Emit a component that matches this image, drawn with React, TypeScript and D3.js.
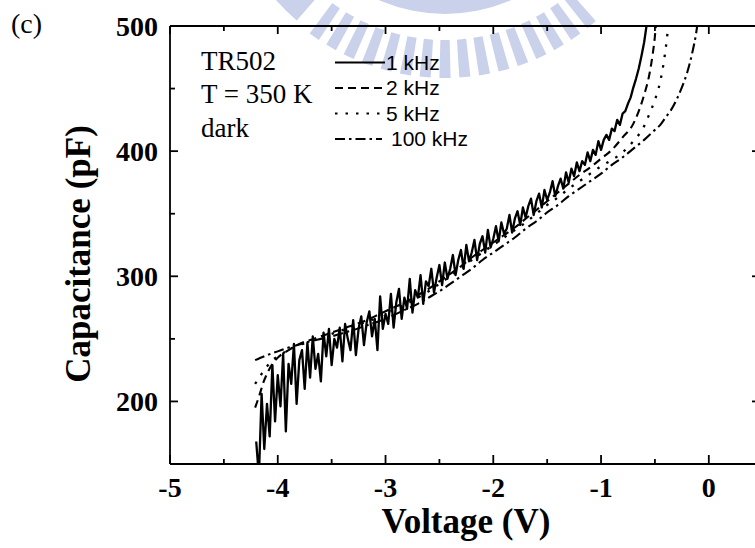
import React from 'react';
import * as d3 from 'd3';

// Axis ticks
const xTicks = [-5, -4, -3, -2, -1, 0];
const xMinorTicks = [-4.5, -3.5, -2.5, -1.5, -0.5];
const yTicks = [200, 300, 400, 500];
const yMinorTicks = [150, 250, 350, 450];

// 1 kHz: noisy sweep, uniform voltage step
const sweepStart = -4.2;
const sweepStep = 0.025;
const cap1kHz = [
  168, 140, 206, 162, 198, 172, 229, 184, 221, 196,
  238, 176, 230, 214, 246, 198, 233, 241, 210, 247,
  219, 252, 226, 238, 216, 255, 236, 258, 229, 250,
  243, 259, 232, 262, 250, 241, 265, 237, 258, 268,
  245, 263, 272, 252, 266, 241, 284, 258, 270, 262,
  286, 259, 279, 290, 266, 283, 274, 298, 271, 289,
  283, 301, 278, 296, 292, 306, 287, 299, 309, 293,
  311, 298, 306, 317, 301, 313, 321, 306, 325, 312,
  319, 329, 313, 326, 332, 319, 337, 323, 330, 340,
  328, 343, 334, 338, 349, 335, 346, 352, 341, 355,
  347, 356, 362, 349, 360, 366, 355, 369, 361, 367,
  376, 364, 372, 378, 370, 383, 375, 386, 380, 391,
  384, 392, 389, 399, 392, 401, 397, 408, 401, 409,
  413, 409, 418, 416, 425, 421, 430, 432, 438, 443,
  451, 458, 466, 476, 487, 502,
];

// 2 kHz
const v2kHz = [-4.21, -4.17, -4.13, -4.1, -4.05, -4.0, -3.9, -3.8, -3.7, -3.6, -3.5, -3.4, -3.3, -3.2, -3.1, -3.0,
  -2.9, -2.8, -2.7, -2.6, -2.5, -2.4, -2.3, -2.2, -2.1, -2.0, -1.9, -1.8, -1.7, -1.6, -1.5, -1.4, -1.3, -1.2, -1.1, -1.0,
  -0.9, -0.8, -0.7, -0.65, -0.6, -0.55, -0.52, -0.5, -0.49];
const cap2kHz = [195, 205, 216, 222, 230, 235, 241, 246, 249, 252, 255, 258, 261, 264, 268, 272,
  276, 280, 285, 290, 296, 302, 308, 315, 321, 327, 333, 339, 346, 353, 360, 367, 374, 381, 387, 394,
  401, 411, 422, 432, 445, 462, 478, 492, 502];

// 5 kHz
const v5kHz = [-4.21, -4.15, -4.1, -4.05, -4.0, -3.9, -3.8, -3.7, -3.6, -3.5, -3.4, -3.3, -3.2, -3.1, -3.0,
  -2.9, -2.8, -2.7, -2.6, -2.5, -2.4, -2.3, -2.2, -2.1, -2.0, -1.9, -1.8, -1.7, -1.6, -1.5, -1.4, -1.3, -1.2, -1.1, -1.0,
  -0.9, -0.8, -0.7, -0.6, -0.55, -0.5, -0.45, -0.42, -0.4, -0.38, -0.37];
const cap5kHz = [214, 222, 228, 233, 236, 241, 245, 248, 251, 254, 257, 260, 263, 266, 270,
  274, 278, 283, 288, 294, 300, 306, 313, 319, 325, 331, 337, 343, 350, 357, 363, 370, 376, 382, 388,
  393, 399, 408, 420, 430, 441, 456, 470, 482, 497, 505];

// 100 kHz
const v100kHz = [-4.21, -4.1, -4.0, -3.9, -3.8, -3.7, -3.6, -3.5, -3.4, -3.3, -3.2, -3.1, -3.0,
  -2.9, -2.8, -2.7, -2.6, -2.5, -2.4, -2.3, -2.2, -2.1, -2.0, -1.9, -1.8, -1.7, -1.6, -1.5, -1.4, -1.3, -1.2, -1.1, -1.0,
  -0.9, -0.8, -0.7, -0.6, -0.5, -0.45, -0.4, -0.35, -0.3, -0.25, -0.2, -0.15, -0.12, -0.1];
const cap100kHz = [233, 237, 240, 243, 245.5, 248, 250, 252, 254.5, 257, 260, 263, 266,
  270, 274, 278, 283, 288, 294, 300, 306, 313, 319, 325, 331, 338, 344, 351, 357, 364, 370, 376, 382,
  389, 395, 402, 409, 417, 421, 427, 433, 441, 451, 463, 480, 493, 505];

const legendLabels = ['1 kHz', '2 kHz', '5 kHz', '100 kHz'];
const infoLines = ['TR502', 'T = 350 K', 'dark'];

const SERIF = "'Liberation Serif', 'Times New Roman', Times, serif";
const SANS = "'Liberation Sans', Arial, Helvetica, sans-serif";

export default function App() {
  const W = 755, H = 548;
  const L = 170, R = 760, T = 26, B = 464;
  const x = d3.scaleLinear().domain([-5, 0.475]).range([L, R]);
  const y = d3.scaleLinear().domain([150, 500]).range([B, T]);

  const v1kHz = cap1kHz.map((_, i) => sweepStart + i * sweepStep);

  const styles = [
    { dash: undefined as string | undefined, curve: d3.curveLinear, width: 2.3 },
    { dash: '8,5', curve: d3.curveMonotoneX, width: 2.1 },
    { dash: '2.5,8', curve: d3.curveMonotoneX, width: 2.3 },
    { dash: '10,4,2.5,4', curve: d3.curveMonotoneX, width: 2.1 },
  ];
  const data: [number, number][][] = [
    v1kHz.map((v, i) => [v, cap1kHz[i]]),
    v2kHz.map((v, i) => [v, cap2kHz[i]]),
    v5kHz.map((v, i) => [v, cap5kHz[i]]),
    v100kHz.map((v, i) => [v, cap100kHz[i]]),
  ];
  const mkLine = (curve: any) =>
    d3.line<[number, number]>().x(d => x(d[0])).y(d => y(d[1])).curve(curve);

  // watermark (decorative, faint logo)
  const wmCx = 445, wmCy = -150;
  const deg = Math.PI / 180;
  const arc = d3.arc<any>();
  const barAngles = d3.range(50, 130, 5);

  const legendX0 = 335, legendX1 = 385;
  const legendY0 = 62.5, legendDY = 25.5;

  return (
    <svg width={W} height={H} style={{ position: 'absolute', left: 0, top: 0, background: '#fff' }}>
      <defs>
        <clipPath id="plotClip">
          <rect x={L} y={T} width={R - L} height={B - T} />
        </clipPath>
      </defs>
      <rect x={0} y={0} width={W} height={H} fill="#fff" />
      {/* watermark */}
      <g transform={`translate(${wmCx},${wmCy})`} fill="#cad1eb">
        {barAngles.map(a => (
          <path key={a} d={arc({ innerRadius: 190, outerRadius: 228, startAngle: (a + 90 - 1.4) * deg, endAngle: (a + 90 + 1.4) * deg }) || ''} />
        ))}
        <path d={arc({ innerRadius: 188, outerRadius: 226, startAngle: (131 + 90) * deg, endAngle: (150 + 90) * deg }) || ''} />
        <path d={arc({ innerRadius: 145, outerRadius: 164, startAngle: (45 + 90) * deg, endAngle: (135 + 90) * deg }) || ''} />
      </g>

      {/* series */}
      <g clipPath="url(#plotClip)" fill="none" stroke="#000" strokeLinejoin="round">
        {[3, 2, 1, 0].map(i => (
          <path key={i} d={mkLine(styles[i].curve)(data[i]) || ''} strokeWidth={styles[i].width}
            strokeDasharray={styles[i].dash} />
        ))}
      </g>

      {/* frame */}
      <g stroke="#000" strokeWidth={1.8} fill="none">
        <line x1={L} x2={R} y1={B} y2={B} />
        <line x1={L} x2={R} y1={T} y2={T} />
        <line x1={L} x2={L} y1={T} y2={B} />
        <line x1={R} x2={R} y1={T} y2={B} />
        {xTicks.map(t => (
          <g key={'xt' + t}>
            <line x1={x(t)} x2={x(t)} y1={B} y2={B - 9} />
            <line x1={x(t)} x2={x(t)} y1={T} y2={T + 8} />
          </g>
        ))}
        {xMinorTicks.map(t => (
          <g key={'xm' + t}>
            <line x1={x(t)} x2={x(t)} y1={B} y2={B - 5} />
            <line x1={x(t)} x2={x(t)} y1={T} y2={T + 5} />
          </g>
        ))}
        {yTicks.map(t => (
          <g key={'yt' + t}>
            <line x1={L} x2={L + 8} y1={y(t)} y2={y(t)} />
            <line x1={R} x2={R - 8} y1={y(t)} y2={y(t)} />
          </g>
        ))}
        {yMinorTicks.map(t => (
          <g key={'ym' + t}>
            <line x1={L} x2={L + 5} y1={y(t)} y2={y(t)} />
            <line x1={R} x2={R - 5} y1={y(t)} y2={y(t)} />
          </g>
        ))}
      </g>

      {/* tick labels */}
      <g fontFamily={SERIF} fontWeight="bold" fontSize={28} fill="#000">
        {xTicks.map(t => (
          <text key={'xl' + t} x={x(t)} y={497} textAnchor="middle">{t}</text>
        ))}
        {yTicks.map(t => (
          <text key={'yl' + t} x={158} y={y(t) + 9.5} textAnchor="end">{t}</text>
        ))}
      </g>

      {/* axis titles */}
      <text x={466} y={533} textAnchor="middle" fontFamily={SERIF} fontWeight="bold" fontSize={35}>Voltage (V)</text>
      <text transform={`translate(90,254) rotate(-90)`} textAnchor="middle" fontFamily={SERIF} fontWeight="bold" fontSize={35}>Capacitance (pF)</text>

      {/* panel label */}
      <text x={11} y={33} fontFamily={SERIF} fontSize={28}>(c)</text>

      {/* info */}
      <g fontFamily={SERIF} fontSize={27}>
        {infoLines.map((s, i) => (
          <text key={s} x={201} y={70 + i * 33.3}>{s}</text>
        ))}
      </g>

      {/* legend */}
      <g>
        {legendLabels.map((lab, i) => {
          const ly = legendY0 + i * legendDY;
          return (
            <g key={lab}>
              <line x1={legendX0} x2={i === 3 ? legendX1 - 3 : legendX1} y1={ly} y2={ly} stroke="#000"
                strokeWidth={2} strokeDasharray={styles[i].dash} />
              <text x={i === 3 ? 391 : 386} y={ly + 7} fontFamily={SANS} fontSize={21}>{lab}</text>
            </g>
          );
        })}
      </g>
    </svg>
  );
}
